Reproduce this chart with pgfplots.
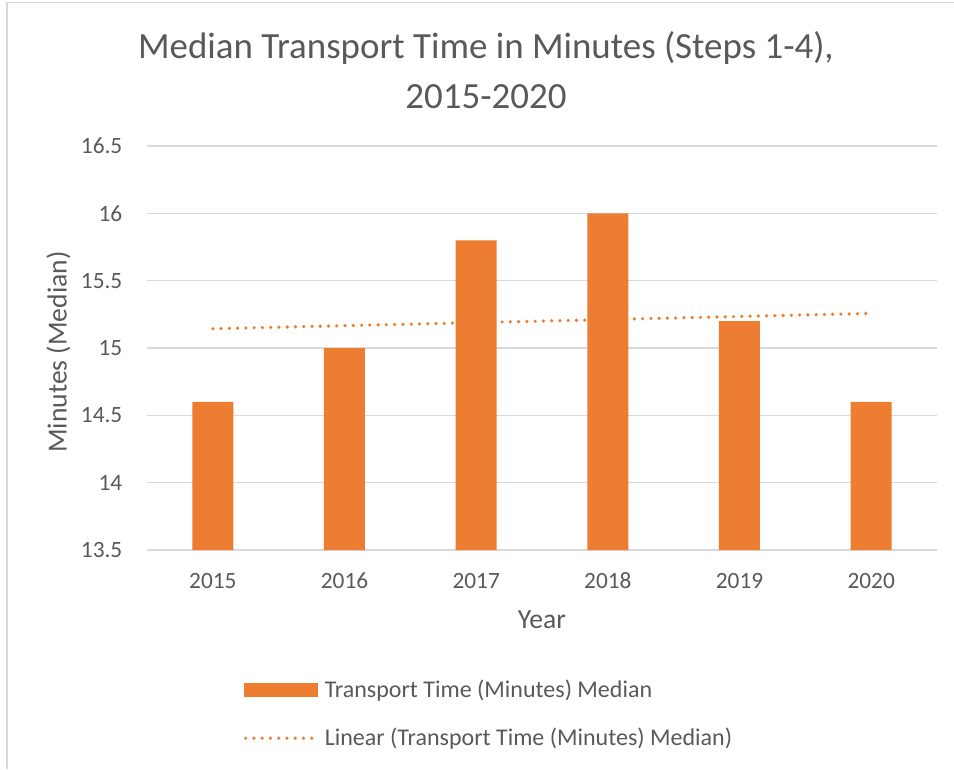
\documentclass[border=0pt]{standalone}
\usepackage{pgfplots}
\pgfplotsset{compat=1.18}
\usepackage{fontspec}
\setmainfont{Carlito}
\definecolor{barorange}{HTML}{ED7D31}
\definecolor{txt}{HTML}{595959}
\definecolor{gridc}{HTML}{D9D9D9}
\begin{document}
\begin{tikzpicture}
\useasboundingbox (0,0) rectangle (715.5pt,576.75pt);
\draw[gridc, line width=1.4pt] (5pt,0) -- (5pt,574.9pt) -- (715.5pt,574.9pt);
\node[txt, font=\fontsize{27.7}{32}\selectfont, anchor=base] at (364.5pt,533.2pt) {Median Transport Time in Minutes (Steps 1-4),};
\node[txt, font=\fontsize{27.7}{32}\selectfont, anchor=base] at (364.5pt,495pt) {2015-2020};
\begin{axis}[
  at={(110.25pt,164.25pt)}, anchor=south west,
  scale only axis, width=592.5pt, height=303pt,
  xmin=-0.5, xmax=5.5, ymin=13.5, ymax=16.5,
  xtick={0,1,2,3,4,5},
  xticklabels={2015,2016,2017,2018,2019,2020},
  ytick={13.5,14,14.5,15,15.5,16,16.5},
  yticklabels={13.5,14,14.5,15,15.5,16,16.5},
  /pgf/number format/assume math mode=true,
  major tick length=0pt,
  axis line style={draw=none},
  ymajorgrids, major grid style={gridc, line width=1.1pt},
  tick label style={txt, font=\fontsize{17.5}{20}\selectfont},
  yticklabel style={xshift=-15pt},
  xticklabel style={yshift=-13.5pt, text height=12pt, text depth=0pt},
  xlabel={Year}, ylabel={Minutes (Median)},
  label style={txt, font=\fontsize{20.7}{24}\selectfont},
  xlabel style={at={(axis description cs:0.5,-0.173)}, anchor=center},
  ylabel style={at={(axis description cs:-0.112,0.49)}, anchor=center, rotate=0},
  legend style={at={(axis description cs:0.122,-0.315)}, anchor=north west, draw=none, fill=none,
    font=\fontsize{18}{21}\selectfont, text=txt, row sep=17.5pt, inner sep=0pt,
    /tikz/every odd column/.append style={column sep=1.5pt}},
  legend cell align=left,
  clip=false,
]
\addplot[ybar, bar width=30.75pt, fill=barorange, draw=none,
  legend image code/.code={\fill[barorange] (0pt,-5.6pt) rectangle (56pt,5.6pt);}]
  coordinates {(0,14.6) (1,15.0) (2,15.8) (3,16.0) (4,15.2) (5,14.6)};
\addlegendentry{Transport Time (Minutes) Median}
\addplot[barorange, line width=2.7pt, line cap=round, dash pattern=on 0pt off 6.2pt,
  legend image code/.code={\draw[barorange, line width=2.7pt, line cap=round, dash pattern=on 0pt off 6.2pt] (1.5pt,0pt) -- (56pt,0pt);}]
  coordinates {(0,15.143) (5,15.257)};
\addlegendentry{Linear (Transport Time (Minutes) Median)}
\end{axis}
\end{tikzpicture}
\end{document}
